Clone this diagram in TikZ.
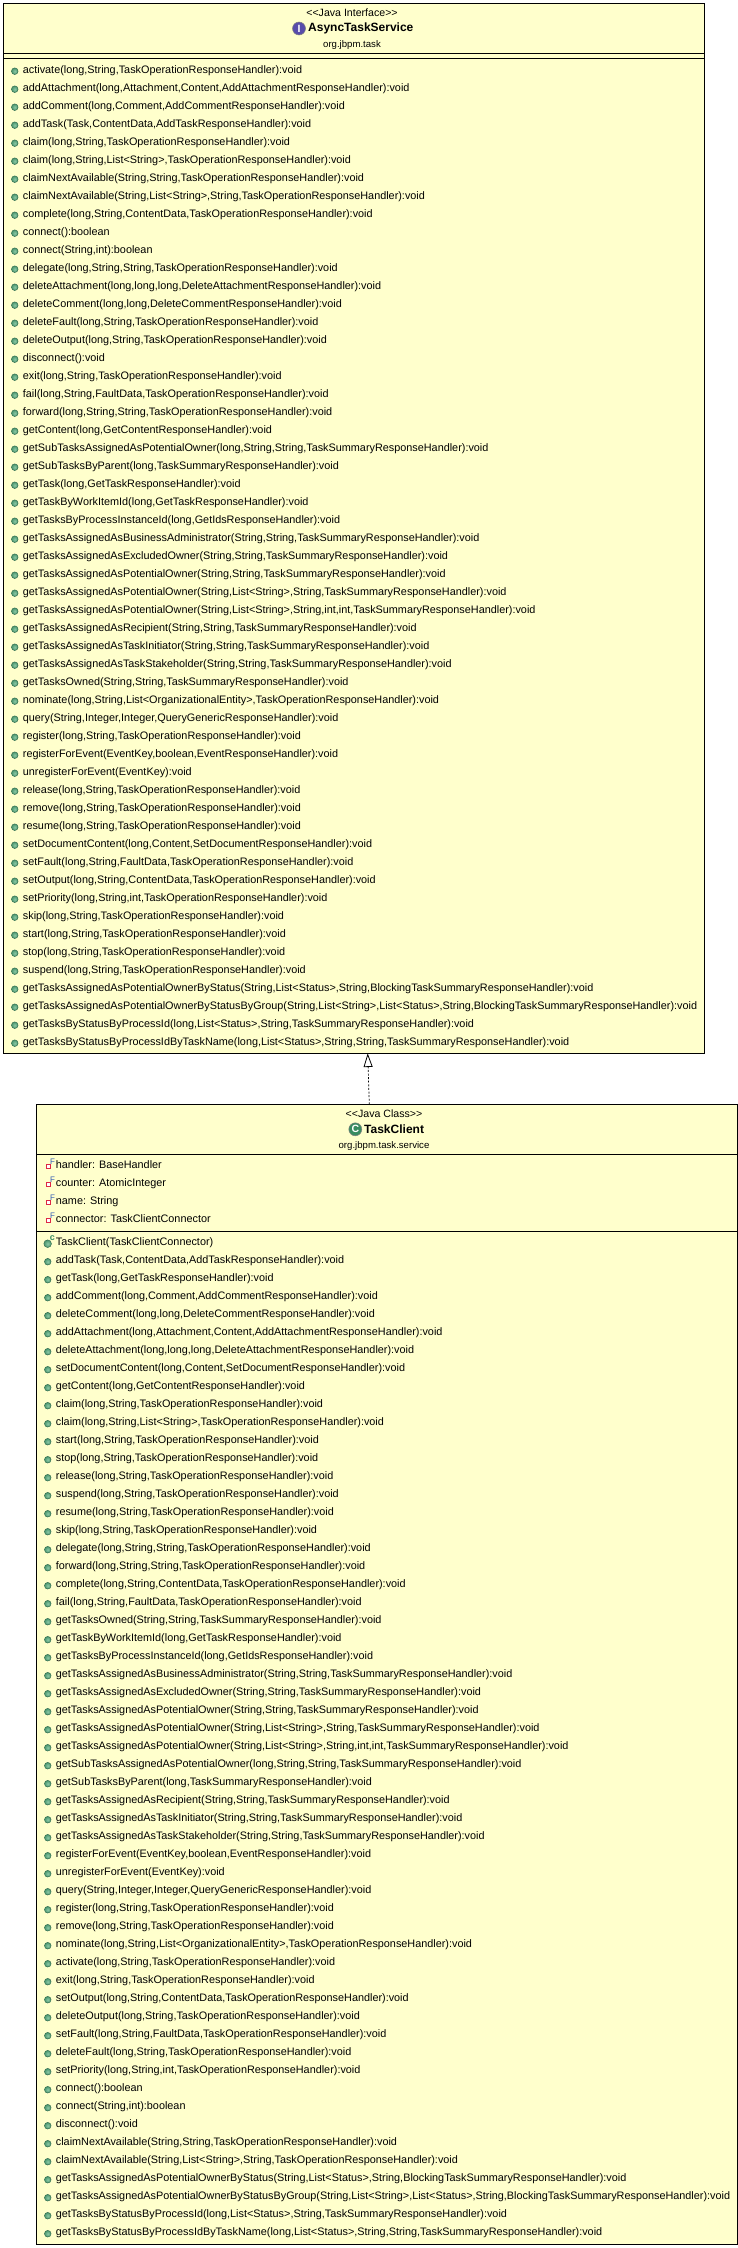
\documentclass[tikz,border=0pt]{standalone}
\usepackage{fontspec}
\setmainfont{Liberation Sans}[Ligatures=TeXOff]
\usetikzlibrary{arrows.meta}
\definecolor{notefill}{RGB}{255,255,204}
\definecolor{pubgreen}{RGB}{74,150,110}
\definecolor{publight}{RGB}{140,200,165}
\definecolor{pubedge}{RGB}{50,110,80}
\definecolor{ifacepurple}{RGB}{88,76,170}
\definecolor{classgreen}{RGB}{56,140,96}
\definecolor{privred}{RGB}{222,40,70}
\definecolor{finalblue}{RGB}{50,90,180}
\newcommand{\umlfont}{\fontsize{10.85}{12}\selectfont}
\tikzset{
    umlbox/.style = {rectangle,
                    anchor=north west,
                    fill=notefill,
                    draw=black,
                    line width=1pt,
                    inner sep=0pt,
                    outer sep=0pt},
    pubicon/.style = {circle,
                    shading=radial,
                    inner color=publight,
                    outer color=pubgreen,
                    draw=pubedge,
                    line width=0.5pt,
                    inner sep=0pt,
                    minimum size=6.6pt},
    typeicon/.style = {circle,
                    draw=black!50,
                    line width=0.5pt,
                    text=white,
                    font=\fontsize{10.5}{10.5}\selectfont\bfseries,
                    inner sep=0pt,
                    minimum size=13pt},
    privicon/.style = {rectangle,
                    fill=white,
                    draw=privred,
                    line width=1.2pt,
                    inner sep=0pt,
                    minimum size=3.6pt},
    stereo/.style = {font=\fontsize{10.6}{12}\selectfont, inner sep=0pt},
    classname/.style = {font=\fontsize{12}{14}\selectfont\bfseries, inner sep=0pt},
    pkgname/.style = {font=\fontsize{9.6}{11}\selectfont, inner sep=0pt},
    row/.style =    {anchor=west,
                    font=\umlfont,
                    inner sep=0pt,
                    text height=9.4pt,
                    text depth=2pt},
    method/.style = {row,
                    label={[pubicon,label distance=4.4pt,yshift=-1.7pt]left:{}}},
    ctor/.style =   {row,
                    label={[pubicon,minimum size=7.6pt,label distance=4pt,yshift=-1.7pt]left:{}},
                    label={[text=classgreen,font=\fontsize{9}{9}\selectfont\bfseries,inner sep=0pt,label distance=0.7pt,yshift=4pt]left:c}},
    field/.style =  {row,
                    label={[privicon,label distance=4.8pt,yshift=-1.4pt]left:{}},
                    label={[text=finalblue,font=\fontsize{8}{8}\selectfont,inner sep=0pt,label distance=0.6pt,yshift=3.6pt]left:F}},
    realize/.style = {dashed,
                    dash pattern=on 2pt off 1.6pt,
                    line width=0.7pt,
                    -{Triangle[open,fill=white,length=13.7pt,width=9pt,line width=0.8pt]},
                    shorten >=0pt}
}
\begin{document}
\begin{tikzpicture}[x=1pt,y=-1pt]
\useasboundingbox (0,0) rectangle (738,2248);

\node[umlbox,minimum width=700.7pt,minimum height=1049.8pt] (service) at (3.3,3.5)   {};
\node[umlbox,minimum width=700.9pt,minimum height=1139.7pt] (client)  at (36.5,1104.3) {};

\draw[line width=1pt] ([yshift=-50pt]service.north west) -- ([yshift=-50pt]service.north east);
\draw[line width=1pt] ([yshift=-55pt]service.north west) -- ([yshift=-55pt]service.north east);
\draw[line width=1pt] ([yshift=-50pt]client.north west)  -- ([yshift=-50pt]client.north east);
\draw[line width=1pt] ([yshift=-127pt]client.north west) -- ([yshift=-127pt]client.north east);

\coordinate (implfoot) at (369.3,1104.3);
\coordinate (impltip)  at (367.7,1053.3);
\draw[realize] (implfoot) -- (impltip);

\node[stereo]    (servicestereo) at (352,12.3)   {<<Java Interface>>};
\node[classname,anchor=west] (servicename) at (308,28.7) {AsyncTaskService};
\node[typeicon,fill=ifacepurple] (serviceicon) at (299,28.5) {I};
\node[pkgname]   (servicepkg)    at (352,45)     {org.jbpm.task};

\node[stereo]    (clientstereo)  at (384,1113.3) {<<Java Class>>};
\node[classname,anchor=west] (clientname) at (364,1129.3) {TaskClient};
\node[typeicon,fill=classgreen] (clienticon) at (355.3,1129.3) {C};
\node[pkgname]   (clientpkg)     at (384,1146)   {org.jbpm.task.service};

\node[method] (s0)  at (22.7,69.5)   {activate(long,String,TaskOperationResponseHandler):void};
\node[method] (s1)  at (22.7,87.5)   {addAttachment(long,Attachment,Content,AddAttachmentResponseHandler):void};
\node[method] (s2)  at (22.7,105.5)  {addComment(long,Comment,AddCommentResponseHandler):void};
\node[method] (s3)  at (22.7,123.5)  {addTask(Task,ContentData,AddTaskResponseHandler):void};
\node[method] (s4)  at (22.7,141.5)  {claim(long,String,TaskOperationResponseHandler):void};
\node[method] (s5)  at (22.7,159.5)  {claim(long,String,List<String>,TaskOperationResponseHandler):void};
\node[method] (s6)  at (22.7,177.5)  {claimNextAvailable(String,String,TaskOperationResponseHandler):void};
\node[method] (s7)  at (22.7,195.5)  {claimNextAvailable(String,List<String>,String,TaskOperationResponseHandler):void};
\node[method] (s8)  at (22.7,213.5)  {complete(long,String,ContentData,TaskOperationResponseHandler):void};
\node[method] (s9)  at (22.7,231.5)  {connect():boolean};
\node[method] (s10) at (22.7,249.5)  {connect(String,int):boolean};
\node[method] (s11) at (22.7,267.5)  {delegate(long,String,String,TaskOperationResponseHandler):void};
\node[method] (s12) at (22.7,285.5)  {deleteAttachment(long,long,long,DeleteAttachmentResponseHandler):void};
\node[method] (s13) at (22.7,303.5)  {deleteComment(long,long,DeleteCommentResponseHandler):void};
\node[method] (s14) at (22.7,321.5)  {deleteFault(long,String,TaskOperationResponseHandler):void};
\node[method] (s15) at (22.7,339.5)  {deleteOutput(long,String,TaskOperationResponseHandler):void};
\node[method] (s16) at (22.7,357.5)  {disconnect():void};
\node[method] (s17) at (22.7,375.5)  {exit(long,String,TaskOperationResponseHandler):void};
\node[method] (s18) at (22.7,393.5)  {fail(long,String,FaultData,TaskOperationResponseHandler):void};
\node[method] (s19) at (22.7,411.5)  {forward(long,String,String,TaskOperationResponseHandler):void};
\node[method] (s20) at (22.7,429.5)  {getContent(long,GetContentResponseHandler):void};
\node[method] (s21) at (22.7,447.5)  {getSubTasksAssignedAsPotentialOwner(long,String,String,TaskSummaryResponseHandler):void};
\node[method] (s22) at (22.7,465.5)  {getSubTasksByParent(long,TaskSummaryResponseHandler):void};
\node[method] (s23) at (22.7,483.5)  {getTask(long,GetTaskResponseHandler):void};
\node[method] (s24) at (22.7,501.5)  {getTaskByWorkItemId(long,GetTaskResponseHandler):void};
\node[method] (s25) at (22.7,519.5)  {getTasksByProcessInstanceId(long,GetIdsResponseHandler):void};
\node[method] (s26) at (22.7,537.5)  {getTasksAssignedAsBusinessAdministrator(String,String,TaskSummaryResponseHandler):void};
\node[method] (s27) at (22.7,555.5)  {getTasksAssignedAsExcludedOwner(String,String,TaskSummaryResponseHandler):void};
\node[method] (s28) at (22.7,573.5)  {getTasksAssignedAsPotentialOwner(String,String,TaskSummaryResponseHandler):void};
\node[method] (s29) at (22.7,591.5)  {getTasksAssignedAsPotentialOwner(String,List<String>,String,TaskSummaryResponseHandler):void};
\node[method] (s30) at (22.7,609.5)  {getTasksAssignedAsPotentialOwner(String,List<String>,String,int,int,TaskSummaryResponseHandler):void};
\node[method] (s31) at (22.7,627.5)  {getTasksAssignedAsRecipient(String,String,TaskSummaryResponseHandler):void};
\node[method] (s32) at (22.7,645.5)  {getTasksAssignedAsTaskInitiator(String,String,TaskSummaryResponseHandler):void};
\node[method] (s33) at (22.7,663.5)  {getTasksAssignedAsTaskStakeholder(String,String,TaskSummaryResponseHandler):void};
\node[method] (s34) at (22.7,681.5)  {getTasksOwned(String,String,TaskSummaryResponseHandler):void};
\node[method] (s35) at (22.7,699.5)  {nominate(long,String,List<OrganizationalEntity>,TaskOperationResponseHandler):void};
\node[method] (s36) at (22.7,717.5)  {query(String,Integer,Integer,QueryGenericResponseHandler):void};
\node[method] (s37) at (22.7,735.5)  {register(long,String,TaskOperationResponseHandler):void};
\node[method] (s38) at (22.7,753.5)  {registerForEvent(EventKey,boolean,EventResponseHandler):void};
\node[method] (s39) at (22.7,771.5)  {unregisterForEvent(EventKey):void};
\node[method] (s40) at (22.7,789.5)  {release(long,String,TaskOperationResponseHandler):void};
\node[method] (s41) at (22.7,807.5)  {remove(long,String,TaskOperationResponseHandler):void};
\node[method] (s42) at (22.7,825.5)  {resume(long,String,TaskOperationResponseHandler):void};
\node[method] (s43) at (22.7,843.5)  {setDocumentContent(long,Content,SetDocumentResponseHandler):void};
\node[method] (s44) at (22.7,861.5)  {setFault(long,String,FaultData,TaskOperationResponseHandler):void};
\node[method] (s45) at (22.7,879.5)  {setOutput(long,String,ContentData,TaskOperationResponseHandler):void};
\node[method] (s46) at (22.7,897.5)  {setPriority(long,String,int,TaskOperationResponseHandler):void};
\node[method] (s47) at (22.7,915.5)  {skip(long,String,TaskOperationResponseHandler):void};
\node[method] (s48) at (22.7,933.5)  {start(long,String,TaskOperationResponseHandler):void};
\node[method] (s49) at (22.7,951.5)  {stop(long,String,TaskOperationResponseHandler):void};
\node[method] (s50) at (22.7,969.5)  {suspend(long,String,TaskOperationResponseHandler):void};
\node[method] (s51) at (22.7,987.5)  {getTasksAssignedAsPotentialOwnerByStatus(String,List<Status>,String,BlockingTaskSummaryResponseHandler):void};
\node[method] (s52) at (22.7,1005.5) {getTasksAssignedAsPotentialOwnerByStatusByGroup(String,List<String>,List<Status>,String,BlockingTaskSummaryResponseHandler):void};
\node[method] (s53) at (22.7,1023.5) {getTasksByStatusByProcessId(long,List<Status>,String,TaskSummaryResponseHandler):void};
\node[method] (s54) at (22.7,1041.5) {getTasksByStatusByProcessIdByTaskName(long,List<Status>,String,String,TaskSummaryResponseHandler):void};

\node[field] (f0) at (55.7,1165) {handler: BaseHandler};
\node[field] (f1) at (55.7,1183) {counter: AtomicInteger};
\node[field] (f2) at (55.7,1201) {name: String};
\node[field] (f3) at (55.7,1219) {connector: TaskClientConnector};

\node[ctor]   (c0)  at (55.7,1242) {TaskClient(TaskClientConnector)};
\node[method] (c1)  at (55.7,1260) {addTask(Task,ContentData,AddTaskResponseHandler):void};
\node[method] (c2)  at (55.7,1278) {getTask(long,GetTaskResponseHandler):void};
\node[method] (c3)  at (55.7,1296) {addComment(long,Comment,AddCommentResponseHandler):void};
\node[method] (c4)  at (55.7,1314) {deleteComment(long,long,DeleteCommentResponseHandler):void};
\node[method] (c5)  at (55.7,1332) {addAttachment(long,Attachment,Content,AddAttachmentResponseHandler):void};
\node[method] (c6)  at (55.7,1350) {deleteAttachment(long,long,long,DeleteAttachmentResponseHandler):void};
\node[method] (c7)  at (55.7,1368) {setDocumentContent(long,Content,SetDocumentResponseHandler):void};
\node[method] (c8)  at (55.7,1386) {getContent(long,GetContentResponseHandler):void};
\node[method] (c9)  at (55.7,1404) {claim(long,String,TaskOperationResponseHandler):void};
\node[method] (c10) at (55.7,1422) {claim(long,String,List<String>,TaskOperationResponseHandler):void};
\node[method] (c11) at (55.7,1440) {start(long,String,TaskOperationResponseHandler):void};
\node[method] (c12) at (55.7,1458) {stop(long,String,TaskOperationResponseHandler):void};
\node[method] (c13) at (55.7,1476) {release(long,String,TaskOperationResponseHandler):void};
\node[method] (c14) at (55.7,1494) {suspend(long,String,TaskOperationResponseHandler):void};
\node[method] (c15) at (55.7,1512) {resume(long,String,TaskOperationResponseHandler):void};
\node[method] (c16) at (55.7,1530) {skip(long,String,TaskOperationResponseHandler):void};
\node[method] (c17) at (55.7,1548) {delegate(long,String,String,TaskOperationResponseHandler):void};
\node[method] (c18) at (55.7,1566) {forward(long,String,String,TaskOperationResponseHandler):void};
\node[method] (c19) at (55.7,1584) {complete(long,String,ContentData,TaskOperationResponseHandler):void};
\node[method] (c20) at (55.7,1602) {fail(long,String,FaultData,TaskOperationResponseHandler):void};
\node[method] (c21) at (55.7,1620) {getTasksOwned(String,String,TaskSummaryResponseHandler):void};
\node[method] (c22) at (55.7,1638) {getTaskByWorkItemId(long,GetTaskResponseHandler):void};
\node[method] (c23) at (55.7,1656) {getTasksByProcessInstanceId(long,GetIdsResponseHandler):void};
\node[method] (c24) at (55.7,1674) {getTasksAssignedAsBusinessAdministrator(String,String,TaskSummaryResponseHandler):void};
\node[method] (c25) at (55.7,1692) {getTasksAssignedAsExcludedOwner(String,String,TaskSummaryResponseHandler):void};
\node[method] (c26) at (55.7,1710) {getTasksAssignedAsPotentialOwner(String,String,TaskSummaryResponseHandler):void};
\node[method] (c27) at (55.7,1728) {getTasksAssignedAsPotentialOwner(String,List<String>,String,TaskSummaryResponseHandler):void};
\node[method] (c28) at (55.7,1746) {getTasksAssignedAsPotentialOwner(String,List<String>,String,int,int,TaskSummaryResponseHandler):void};
\node[method] (c29) at (55.7,1764) {getSubTasksAssignedAsPotentialOwner(long,String,String,TaskSummaryResponseHandler):void};
\node[method] (c30) at (55.7,1782) {getSubTasksByParent(long,TaskSummaryResponseHandler):void};
\node[method] (c31) at (55.7,1800) {getTasksAssignedAsRecipient(String,String,TaskSummaryResponseHandler):void};
\node[method] (c32) at (55.7,1818) {getTasksAssignedAsTaskInitiator(String,String,TaskSummaryResponseHandler):void};
\node[method] (c33) at (55.7,1836) {getTasksAssignedAsTaskStakeholder(String,String,TaskSummaryResponseHandler):void};
\node[method] (c34) at (55.7,1854) {registerForEvent(EventKey,boolean,EventResponseHandler):void};
\node[method] (c35) at (55.7,1872) {unregisterForEvent(EventKey):void};
\node[method] (c36) at (55.7,1890) {query(String,Integer,Integer,QueryGenericResponseHandler):void};
\node[method] (c37) at (55.7,1908) {register(long,String,TaskOperationResponseHandler):void};
\node[method] (c38) at (55.7,1926) {remove(long,String,TaskOperationResponseHandler):void};
\node[method] (c39) at (55.7,1944) {nominate(long,String,List<OrganizationalEntity>,TaskOperationResponseHandler):void};
\node[method] (c40) at (55.7,1962) {activate(long,String,TaskOperationResponseHandler):void};
\node[method] (c41) at (55.7,1980) {exit(long,String,TaskOperationResponseHandler):void};
\node[method] (c42) at (55.7,1998) {setOutput(long,String,ContentData,TaskOperationResponseHandler):void};
\node[method] (c43) at (55.7,2016) {deleteOutput(long,String,TaskOperationResponseHandler):void};
\node[method] (c44) at (55.7,2034) {setFault(long,String,FaultData,TaskOperationResponseHandler):void};
\node[method] (c45) at (55.7,2052) {deleteFault(long,String,TaskOperationResponseHandler):void};
\node[method] (c46) at (55.7,2070) {setPriority(long,String,int,TaskOperationResponseHandler):void};
\node[method] (c47) at (55.7,2088) {connect():boolean};
\node[method] (c48) at (55.7,2106) {connect(String,int):boolean};
\node[method] (c49) at (55.7,2124) {disconnect():void};
\node[method] (c50) at (55.7,2142) {claimNextAvailable(String,String,TaskOperationResponseHandler):void};
\node[method] (c51) at (55.7,2160) {claimNextAvailable(String,List<String>,String,TaskOperationResponseHandler):void};
\node[method] (c52) at (55.7,2178) {getTasksAssignedAsPotentialOwnerByStatus(String,List<Status>,String,BlockingTaskSummaryResponseHandler):void};
\node[method] (c53) at (55.7,2196) {getTasksAssignedAsPotentialOwnerByStatusByGroup(String,List<String>,List<Status>,String,BlockingTaskSummaryResponseHandler):void};
\node[method] (c54) at (55.7,2214) {getTasksByStatusByProcessId(long,List<Status>,String,TaskSummaryResponseHandler):void};
\node[method] (c55) at (55.7,2232) {getTasksByStatusByProcessIdByTaskName(long,List<Status>,String,String,TaskSummaryResponseHandler):void};
\end{tikzpicture}
\end{document}
